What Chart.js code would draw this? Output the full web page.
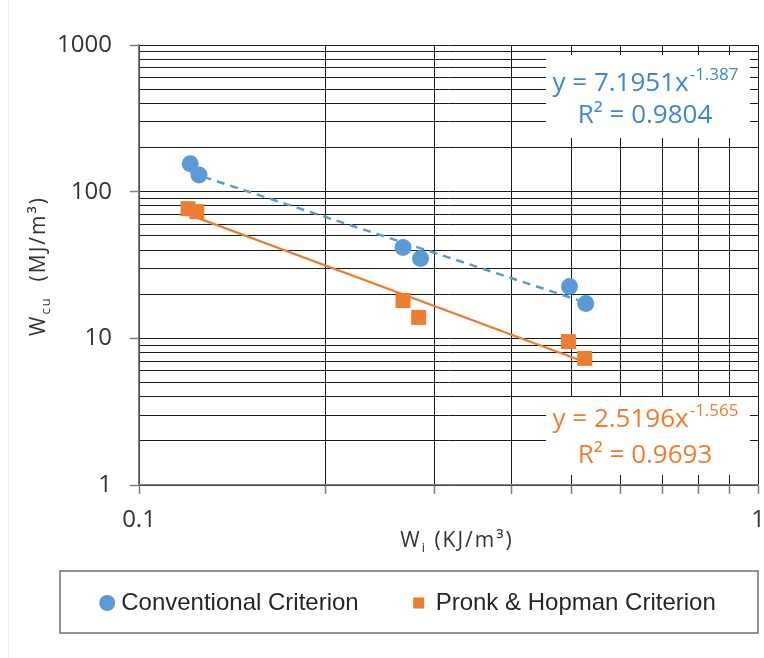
<!DOCTYPE html>
<html>
<head>
<meta charset="utf-8">
<script src="https://cdn.jsdelivr.net/npm/chart.js@4.4.1/dist/chart.umd.min.js"></script>
<style>
  html, body { margin: 0; padding: 0; background: #ffffff; }
  #wrap { width: 764px; height: 658px; position: relative; }
  canvas { display: block; }
</style>
</head>
<body>
<div id="wrap"><canvas id="c" width="764" height="658"></canvas></div>
<script>
// ---------------- DATA ----------------
const seriesNames = ['Conventional Criterion', 'Pronk & Hopman Criterion'];

const conventionalX = [0.121, 0.125, 0.267, 0.285, 0.496, 0.527];
const conventionalY = [155, 130, 41.6, 35.0, 22.6, 17.3];

const pronkX = [0.120, 0.124, 0.267, 0.283, 0.494, 0.525];
const pronkY = [76.6, 73.1, 18.1, 13.9, 9.5, 7.3];

// power-law trendline end points (straight in log-log)
const conventionalTrendX = [0.121, 0.527];
const conventionalTrendY = [135, 17.5];
const pronkTrendX = [0.120, 0.525];
const pronkTrendY = [70, 6.9];

const equationMain = ['y = 7.1951x', 'y = 2.5196x'];
const equationExp = ['-1.387', '-1.565'];
const equationR2 = ['R\u00B2 = 0.9804', 'R\u00B2 = 0.9693'];

const xTickValues = [0.1, 0.2, 0.3, 0.4, 0.5, 0.6, 0.7, 0.8, 0.9, 1];
const xTickLabels = { 0.1: '0.1', 1: '1' };
const yDecades = [1, 10, 100];
const ySignificands = [1, 2, 3, 4, 5, 6, 7, 8, 9];
const yTickLabels = { 1: '1', 10: '10', 100: '100', 1000: '1000' };

const xTitle = ['W', 'i', ' (KJ/m\u00B3)'];
const yTitle = ['W', 'cu', '  (MJ/m\u00B3)'];

// ---------------- STYLE ----------------
const BLUE = '#5B9BD5';
const ORANGE = '#ED7D31';
const BLUE_TEXT = '#3E88CF';
const TEXT = '#333333';
const GRID = '#1a1a1a';
const AXIS = '#7f7f7f';
const FONT = '"Open Sans", sans-serif';

const yTickValues = [];
yDecades.forEach(d => ySignificands.forEach(s => yTickValues.push(+(d * s).toPrecision(3))));
yTickValues.push(1000);

const isPow10 = v => Math.abs(Math.log10(v) - Math.round(Math.log10(v))) < 1e-9;

const toPts = (xs, ys) => xs.map((x, i) => ({ x: x, y: ys[i] }));

// ---------------- PLUGINS ----------------
const bgPlugin = {
  id: 'bg',
  beforeDraw(chart) {
    const ctx = chart.ctx;
    ctx.save();
    ctx.fillStyle = '#ffffff';
    ctx.fillRect(0, 0, chart.width, chart.height);
    ctx.strokeStyle = '#ececec';
    ctx.lineWidth = 1;
    ctx.beginPath();
    ctx.moveTo(8.5, 0);
    ctx.lineTo(8.5, chart.height);
    ctx.stroke();
    ctx.restore();
  }
};

const eqPlugin = {
  id: 'equations',
  afterDatasetsDraw(chart) {
    const ctx = chart.ctx;
    const boxes = [
      { top: 55, bottom: 138, base1: 91, base2: 123, color: BLUE_TEXT },
      { top: 397, bottom: 475, base1: 427, base2: 463, color: ORANGE }
    ];
    const cx = 645;
    ctx.save();
    boxes.forEach((b, i) => {
      ctx.fillStyle = '#ffffff';
      ctx.fillRect(546, b.top, 204, b.bottom - b.top);
      ctx.fillStyle = b.color;
      ctx.textBaseline = 'alphabetic';
      ctx.textAlign = 'left';
      ctx.font = '26px ' + FONT;
      const wMain = ctx.measureText(equationMain[i]).width;
      ctx.font = '17px ' + FONT;
      const wExp = ctx.measureText(equationExp[i]).width;
      const start = cx - (wMain + wExp) / 2;
      ctx.font = '26px ' + FONT;
      ctx.fillText(equationMain[i], start, b.base1);
      ctx.font = '17px ' + FONT;
      ctx.fillText(equationExp[i], start + wMain + 1, b.base1 - 11);
      ctx.font = '26px ' + FONT;
      ctx.textAlign = 'center';
      ctx.fillText(equationR2[i], cx, b.base2);
    });
    ctx.restore();
  }
};

function drawTitle(ctx, parts, sizes, shifts) {
  // draws centred at origin, baseline 0
  let widths = parts.map((p, i) => { ctx.font = sizes[i] + 'px ' + FONT; return ctx.measureText(p).width; });
  const total = widths.reduce((a, b) => a + b, 0);
  let x = -total / 2;
  parts.forEach((p, i) => {
    ctx.font = sizes[i] + 'px ' + FONT;
    ctx.fillText(p, x, shifts[i]);
    x += widths[i];
  });
}

const titlePlugin = {
  id: 'titles',
  afterDraw(chart) {
    const ctx = chart.ctx;
    ctx.save();
    ctx.fillStyle = TEXT;
    ctx.textAlign = 'left';
    ctx.textBaseline = 'alphabetic';
    try { ctx.letterSpacing = '2px'; } catch (e) {}
    // x title
    ctx.save();
    ctx.translate(457, 547);
    drawTitle(ctx, xTitle, [21, 13, 21], [0, 5, 0]);
    ctx.restore();
    // y title
    ctx.save();
    ctx.translate(45, 266);
    ctx.rotate(-Math.PI / 2);
    drawTitle(ctx, yTitle, [21, 13, 21], [0, 5, 0]);
    ctx.restore();
    try { ctx.letterSpacing = '0px'; } catch (e) {}

    // legend
    const boxL = 60, boxR = 758, boxT = 571, boxB = 633;
    ctx.strokeStyle = '#6f6f6f';
    ctx.lineWidth = 1.5;
    ctx.strokeRect(boxL, boxT, boxR - boxL, boxB - boxT);
    ctx.font = '24px "Liberation Sans", Arial, sans-serif';
    ctx.textBaseline = 'middle';
    const markerGap = 16, itemGap = 56;
    const tw = seriesNames.map(n => ctx.measureText(n).width);
    const total = tw[0] + tw[1] + 2 * markerGap + itemGap + 6;
    let x = (boxL + boxR) / 2 - total / 2 + 2;
    const cy = (boxT + boxB) / 2 + 1;
    const ds = chart.data.datasets;
    seriesNames.forEach((n, i) => {
      const d = ds[i];
      ctx.fillStyle = d.backgroundColor;
      ctx.beginPath();
      if (i === 0) {
        ctx.arc(x + 2, cy, 8, 0, Math.PI * 2);
      } else {
        ctx.rect(x - 6.5, cy - 5.5, 11, 11);
      }
      ctx.fill();
      ctx.fillStyle = '#262626';
      ctx.fillText(n, x + markerGap, cy);
      x += markerGap + tw[i] + itemGap + (i === 0 ? 5 : 0);
    });
    ctx.restore();
  }
};

// ---------------- CHART ----------------
const tickFont = { family: '"Open Sans", sans-serif', size: 24 };

new Chart(document.getElementById('c'), {
  type: 'scatter',
  data: {
    datasets: [
      {
        label: seriesNames[0],
        data: toPts(conventionalX, conventionalY),
        pointStyle: 'circle',
        pointRadius: 8.5,
        pointHoverRadius: 8.5,
        backgroundColor: BLUE,
        borderColor: BLUE,
        borderWidth: 0,
        order: 1
      },
      {
        label: seriesNames[1],
        data: toPts(pronkX, pronkY),
        pointStyle: 'rect',
        pointRadius: 10.6,
        pointHoverRadius: 10.6,
        backgroundColor: ORANGE,
        borderColor: ORANGE,
        borderWidth: 0,
        order: 2
      },
      {
        label: 'Power (' + seriesNames[0] + ')',
        data: toPts(conventionalTrendX, conventionalTrendY),
        showLine: true,
        pointRadius: 0,
        borderColor: BLUE,
        borderWidth: 2.5,
        borderDash: [8, 6],
        fill: false,
        order: 3
      },
      {
        label: 'Power (' + seriesNames[1] + ')',
        data: toPts(pronkTrendX, pronkTrendY),
        showLine: true,
        pointRadius: 0,
        borderColor: ORANGE,
        borderWidth: 2.2,
        fill: false,
        order: 4
      }
    ]
  },
  options: {
    responsive: false,
    devicePixelRatio: 1,
    animation: false,
    events: [],
    layout: { autoPadding: false, padding: { top: 45, right: 6, bottom: 0, left: 0 } },
    plugins: {
      legend: { display: false },
      tooltip: { enabled: false },
      title: { display: false }
    },
    scales: {
      x: {
        type: 'logarithmic',
        position: 'bottom',
        min: 0.1,
        max: 1,
        afterBuildTicks: s => { s.ticks = xTickValues.map(v => ({ value: v, major: isPow10(v) })); },
        afterFit: s => { s.height = 173; s.paddingLeft = 0; s.paddingRight = 0; },
        ticks: {
          autoSkip: false,
          maxRotation: 0,
          minRotation: 0,
          padding: 12,
          color: TEXT,
          font: tickFont,
          callback: v => (xTickLabels[+v.toPrecision(3)] || '')
        },
        grid: {
          color: GRID,
          lineWidth: 1,
          drawTicks: true,
          tickLength: 9,
          tickColor: AXIS,
          tickWidth: 1.5
        },
        border: { display: true, color: AXIS, width: 1.5 }
      },
      y: {
        type: 'logarithmic',
        position: 'left',
        min: 1,
        max: 1000,
        afterBuildTicks: s => { s.ticks = yTickValues.map(v => ({ value: v, major: isPow10(v) })); },
        afterFit: s => { s.width = 139; s.paddingTop = 0; s.paddingBottom = 0; },
        ticks: {
          autoSkip: false,
          padding: 18,
          color: TEXT,
          font: tickFont,
          callback: v => (yTickLabels[+(+v).toPrecision(3)] || '')
        },
        grid: {
          color: GRID,
          lineWidth: 1,
          drawTicks: true,
          tickLength: 9,
          tickColor: c => (c.tick && isPow10(c.tick.value) ? AXIS : 'rgba(0,0,0,0)'),
          tickWidth: 1.5
        },
        border: { display: true, color: AXIS, width: 1.5 }
      }
    }
  },
  plugins: [bgPlugin, eqPlugin, titlePlugin]
});
</script>
</body>
</html>
